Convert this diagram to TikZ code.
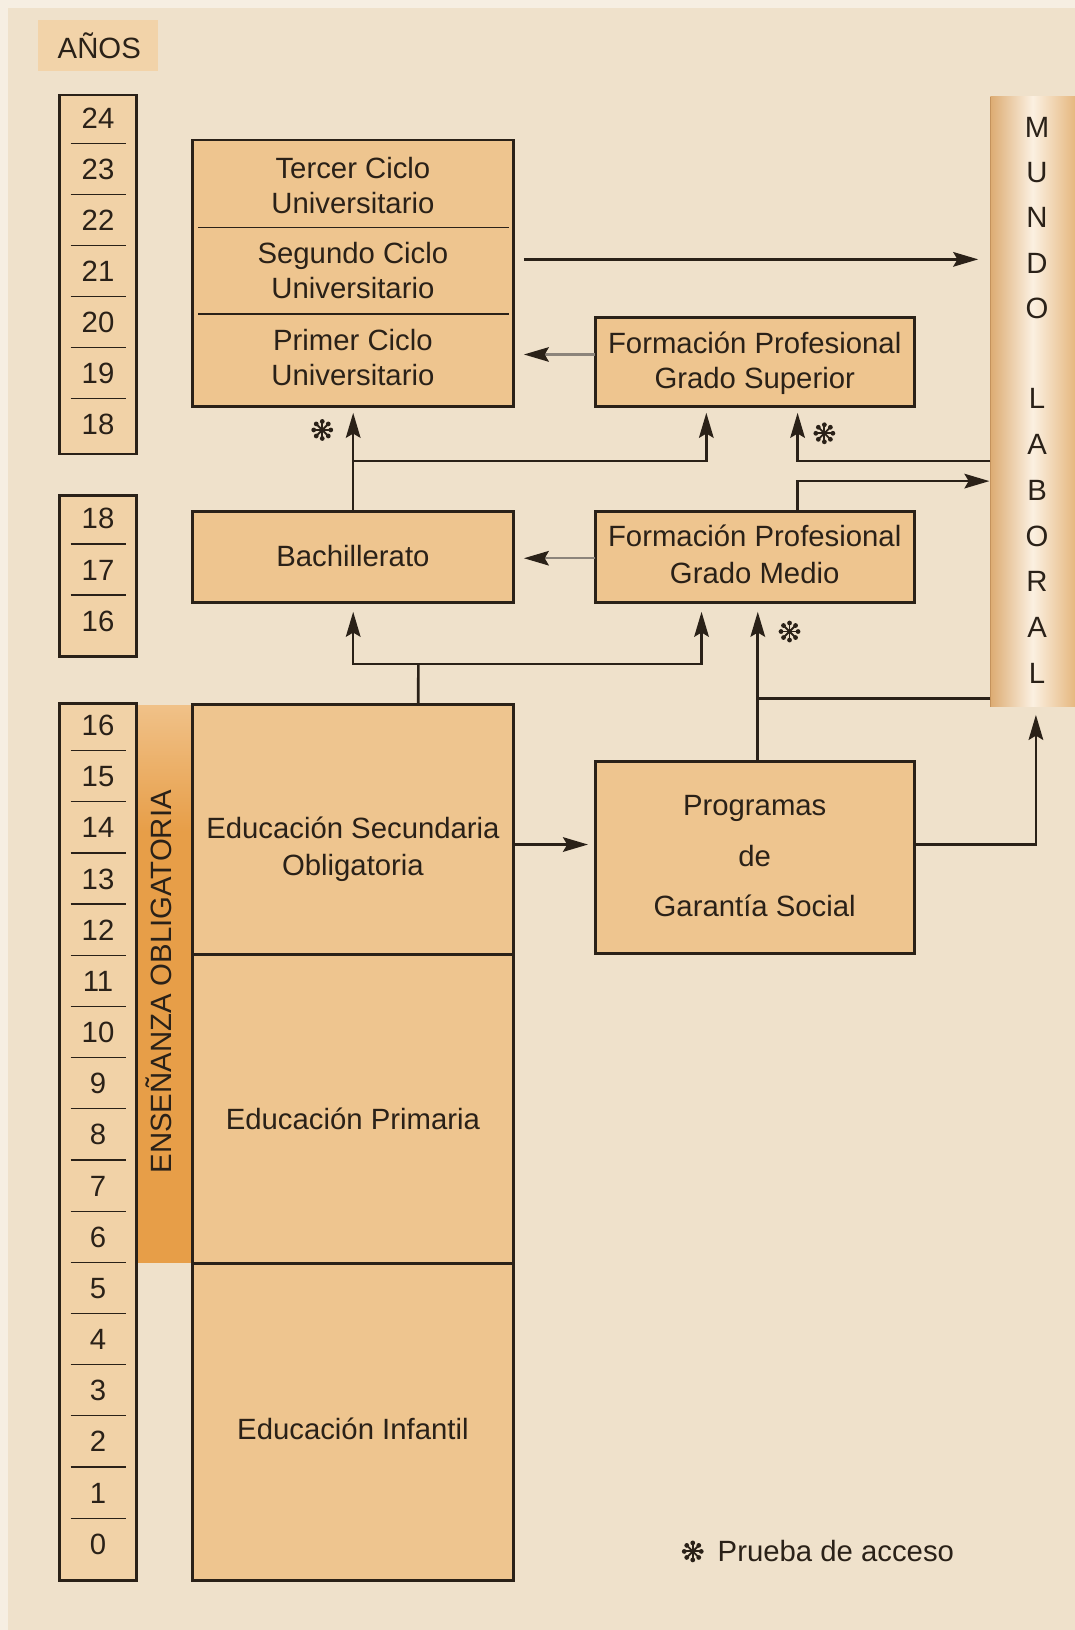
\documentclass[tikz,border=0pt]{standalone}
\usepackage{fontspec}
\setmainfont{Liberation Sans}
\usetikzlibrary{arrows.meta,calc}
\definecolor{bg}{HTML}{EFE1CB}
\definecolor{topstrip}{HTML}{F6EEE2}
\definecolor{boxfill}{HTML}{EEC58F}
\definecolor{colfill}{HTML}{F1D2A7}
\definecolor{anosfill}{HTML}{F2D3A9}
\definecolor{orangeL}{HTML}{F0C188}
\definecolor{orangeD}{HTML}{E79E48}
\definecolor{mundoL}{HTML}{DDAC73}
\definecolor{mundoM}{HTML}{FBF0E1}
\definecolor{mundoR}{HTML}{E6B880}
\definecolor{mundoEdge}{HTML}{C4925C}
\definecolor{lineGray}{HTML}{8C847B}
\definecolor{ink}{HTML}{2A2118}
\begin{document}
\begin{tikzpicture}[x=0.5pt,y=-0.5pt,
  font=\fontsize{14.1}{17}\selectfont,
  box/.style={rectangle,draw=ink,line width=1.4pt,fill=boxfill,inner sep=0pt,outer sep=0pt},
  colbox/.style={rectangle,draw=ink,line width=1.4pt,fill=colfill,inner sep=0pt,outer sep=0pt,minimum width=36.75pt},
  lbl/.style={anchor=base,inner sep=0pt,text=ink},
  ast/.style={circle,inner sep=0pt,minimum size=13pt,
    path picture={
      \foreach \a in {0,45,...,315}{
        \draw[ink,line width=0.9pt,line cap=round] (path picture bounding box.center) -- +(\a:4.2pt);
        \fill[ink] (path picture bounding box.center) ++(\a:4.1pt) circle (1.15pt);}
      \fill[ink] (path picture bounding box.center) circle (1.1pt);}},
  sep/.style={draw=ink,line width=0.6pt},
  conn/.style={draw=ink,line width=1.25pt},
  arr/.style={conn,-{Stealth[length=12pt,width=7pt,inset=2pt]}},
  garr/.style={draw=lineGray,line width=1pt,-{Stealth[length=12pt,width=7pt,inset=2pt,color=ink]}}
]
% background
\fill[topstrip] (0,0) rectangle (1034,1568);
\useasboundingbox (0,0) rectangle (1034,1568);
\fill[bg] (8,8) rectangle (1034,1568);

% AÑOS
\node[fill=anosfill,inner sep=0pt,outer sep=0pt,minimum width=58pt,minimum height=24.55pt] (anos) at (94.4,43.75) {};
\node[lbl] (anosT) at (95.5,56.5) {AÑOS};

% age columns
\node[colbox,minimum height=172.65pt] (col1) at (94.25,264.05) {};
\node[colbox,minimum height=77.4pt] (col2) at (94.25,554.2) {};
% obligatory bar
\shade[top color=orangeL,bottom color=orangeD] (131.5,679) rectangle (184.5,800);
\fill[orangeD] (131.5,799.5) rectangle (184.5,1215);
\node[colbox,minimum height=422.05pt] (col3) at (94.25,1098.55) {};
\node[lbl,rotate=90] (obligT) at (165,944.5) {ENSEÑANZA OBLIGATORIA};

\foreach \k in {0,...,5} {\draw[sep] (68,{137.9+49.1*\k}) -- (121,{137.9+49.1*\k});}
\foreach \k in {0,...,6} {\pgfmathtruncatemacro{\n}{24-\k}
  \node[lbl] (ya\n) at (94.3,{123.8+49.1*\k}) {\n};}
\draw[sep] (68,523.2) -- (121,523.2);
\draw[sep] (68,572.3) -- (121,572.3);
\node[lbl] (yb18) at (94.3,508.5) {18};
\node[lbl] (yb17) at (94.3,558.2) {17};
\node[lbl] (yb16) at (94.3,607) {16};
\foreach \k in {0,...,15} {\draw[sep] (68,{722+49.23*\k}) -- (121,{722+49.23*\k});}
\foreach \k in {0,...,16} {\pgfmathtruncatemacro{\n}{16-\k}
  \node[lbl] (yc\n) at (94.3,{707.5+49.23*\k}) {\n};}

% university
\node[box,minimum width=154.25pt,minimum height=128.2pt] (uni) at (339.75,262.9) {};
\draw[sep,line width=0.7pt] (190.5,219) -- (489.6,219);
\draw[sep,line width=0.7pt] (190.5,302) -- (489.6,302);
\node[lbl] (u3a) at (339.5,171.3) {Tercer Ciclo};
\node[lbl] (u3b) at (339.5,205.3) {Universitario};
\node[lbl] (u2a) at (339.5,253.6) {Segundo Ciclo};
\node[lbl] (u2b) at (339.5,287) {Universitario};
\node[lbl] (u1a) at (339.5,337) {Primer Ciclo};
\node[lbl] (u1b) at (339.5,370.7) {Universitario};

% FP grado superior
\node[box,minimum width=153.45pt,minimum height=42.95pt] (fpgs) at (726.05,348.15) {};
\node[lbl] (fpgsA) at (726,340.2) {Formación Profesional};
\node[lbl] (fpgsB) at (726,373.9) {Grado Superior};

% Bachillerato
\node[box,minimum width=154.25pt,minimum height=43.75pt] (bach) at (339.75,535.75) {};
\node[lbl] (bachT) at (339.5,544.5) {Bachillerato};

% FP grado medio
\node[box,minimum width=153.45pt,minimum height=43.75pt] (fpgm) at (726.05,535.75) {};
\node[lbl] (fpgmA) at (726,525.5) {Formación Profesional};
\node[lbl] (fpgmB) at (726,561.5) {Grado Medio};

% ESO, Primaria, Infantil
\node[box,minimum width=154.25pt,minimum height=120.2pt] (eso) at (339.75,797.7) {};
\node[lbl] (esoA) at (339.5,806.7) {Educación Secundaria};
\node[lbl] (esoB) at (339.5,842) {Obligatoria};
\node[box,minimum width=154.25pt,minimum height=148.55pt] (prim) at (339.75,1066.45) {};
\node[lbl] (primT) at (339.5,1086.3) {Educación Primaria};
\node[box,minimum width=154.25pt,minimum height=152.8pt] (inf) at (339.75,1367.8) {};
\node[lbl] (infT) at (339.5,1384.5) {Educación Infantil};

% Programas de Garantía Social
\node[box,minimum width=153.45pt,minimum height=92.2pt] (prog) at (726.05,824.8) {};
\node[lbl] (progA) at (726,784.3) {Programas};
\node[lbl] (progB) at (726,833.9) {de};
\node[lbl] (progC) at (726,882) {Garantía Social};

% Mundo laboral
\node[rectangle,inner sep=0pt,outer sep=0pt,left color=mundoL,right color=mundoR,middle color=mundoM,
      minimum width=40.6pt,minimum height=293.35pt] (mundo) at (993.4,386.35) {};
\draw[mundoEdge,line width=0.8pt] (mundo.north west) -- (mundo.south west);
\foreach \c/\y/\nm in {M/122/m1,U/165.6/m2,N/209.2/m3,D/252.8/m4,O/296.4/m5,
                       L/383/m6,A/427/m7,B/471.2/m8,O/515.3/m9,R/559.4/m10,A/603.5/m11,L/647.6/m12}
  {\node[lbl] (\nm) at (997.6,\y+10) {\c};}

% connectors
\coordinate (aY) at (0,249.5);
\draw[arr,shorten <=5pt,shorten >=5.9pt] (uni.east |- aY) -- (mundo.west |- aY);
\coordinate (bY) at (0,341);
\draw[garr,shorten >=5pt] (fpgs.west |- bY) -- (uni.east |- bY);
\draw[arr,shorten >=3pt] (bach.north) -- (uni.south);
\coordinate (cJ) at (339.75,443.5);
\draw[arr,shorten >=3pt] (cJ) -| ([xshift=-23.3pt]fpgs.south);
\draw[arr,shorten >=3pt] (mundo.west |- cJ) -| ([xshift=20.6pt]fpgs.south);
\coordinate (eY) at (0,462.8);
\draw[arr,shorten >=0.5pt] ([xshift=20.6pt]fpgm.north) |- (mundo.west |- eY);
\coordinate (fY) at (0,537);
\draw[garr,shorten >=5pt] (fpgm.west |- fY) -- (bach.east |- fY);
\coordinate (gJ) at (402.4,638.6);
\draw[conn] ([xshift=31.3pt]eso.north) -- (gJ);
\draw[arr,shorten >=4.5pt] (gJ) -| (bach.south);
\draw[arr,shorten >=4.5pt] (gJ) -| ([xshift=-25.6pt]fpgm.south);
\draw[arr,shorten >=4.5pt] ([xshift=1.45pt]prog.north) -- ([xshift=1.45pt]fpgm.south);
\coordinate (hY) at (0,671.7);
\draw[conn] (mundo.west |- hY) -- ([xshift=1.45pt]prog.north |- hY);
\coordinate (iY) at (0,812.4);
\draw[arr,shorten >=3.5pt] (eso.east |- iY) -- (prog.west |- iY);
\draw[arr,shorten >=4pt] (prog.east |- iY) -| ([xshift=1.55pt]mundo.south);

% asterisks (access test marks)
\node[ast] (s1) at (310,413.6) {};
\node[ast] (s2) at (793,416.8) {};
\node[ast] (s3) at (759.5,607.5) {};

% legend
\node[ast] (legA) at (666.4,1492.4) {};
\node[lbl,anchor=base west] (legT) at (690,1502.4) {Prueba de acceso};
\end{tikzpicture}
\end{document}
